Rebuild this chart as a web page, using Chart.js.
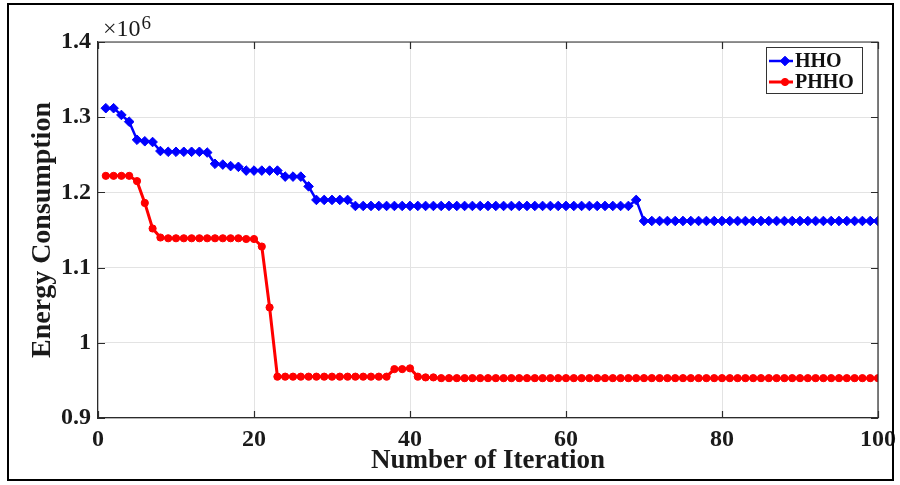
<!DOCTYPE html>
<html>
<head>
<meta charset="utf-8">
<script src="https://cdn.jsdelivr.net/npm/chart.js@4"></script>
<style>
html,body{margin:0;padding:0;background:#fff;}
canvas{display:block;}
</style>
</head>
<body>
<canvas id="c" width="900" height="485"></canvas>
<script>
// ---- data (values in units of 10^6) ----
const iterations = [
  1,2,3,4,5,6,7,8,9,10,
  11,12,13,14,15,16,17,18,19,20,
  21,22,23,24,25,26,27,28,29,30,
  31,32,33,34,35,36,37,38,39,40,
  41,42,43,44,45,46,47,48,49,50,
  51,52,53,54,55,56,57,58,59,60,
  61,62,63,64,65,66,67,68,69,70,
  71,72,73,74,75,76,77,78,79,80,
  81,82,83,84,85,86,87,88,89,90,
  91,92,93,94,95,96,97,98,99,100
];
const hhoValues = [
  1.312,1.312,1.303,1.294,1.270,1.268,1.267,1.255,1.254,1.254,
  1.254,1.254,1.254,1.253,1.238,1.237,1.235,1.234,1.229,1.229,
  1.229,1.229,1.229,1.221,1.221,1.221,1.208,1.190,1.190,1.190,
  1.190,1.190,1.182,1.182,1.182,1.182,1.182,1.182,1.182,1.182,
  1.182,1.182,1.182,1.182,1.182,1.182,1.182,1.182,1.182,1.182,
  1.182,1.182,1.182,1.182,1.182,1.182,1.182,1.182,1.182,1.182,
  1.182,1.182,1.182,1.182,1.182,1.182,1.182,1.182,1.190,1.162,
  1.162,1.162,1.162,1.162,1.162,1.162,1.162,1.162,1.162,1.162,
  1.162,1.162,1.162,1.162,1.162,1.162,1.162,1.162,1.162,1.162,
  1.162,1.162,1.162,1.162,1.162,1.162,1.162,1.162,1.162,1.162
];
const phhoValues = [
  1.222,1.222,1.222,1.222,1.215,1.186,1.152,1.140,1.139,1.139,
  1.139,1.139,1.139,1.139,1.139,1.139,1.139,1.139,1.138,1.138,
  1.128,1.047,0.955,0.955,0.955,0.955,0.955,0.955,0.955,0.955,
  0.955,0.955,0.955,0.955,0.955,0.955,0.955,0.965,0.965,0.966,
  0.955,0.954,0.954,0.953,0.953,0.953,0.953,0.953,0.953,0.953,
  0.953,0.953,0.953,0.953,0.953,0.953,0.953,0.953,0.953,0.953,
  0.953,0.953,0.953,0.953,0.953,0.953,0.953,0.953,0.953,0.953,
  0.953,0.953,0.953,0.953,0.953,0.953,0.953,0.953,0.953,0.953,
  0.953,0.953,0.953,0.953,0.953,0.953,0.953,0.953,0.953,0.953,
  0.953,0.953,0.953,0.953,0.953,0.953,0.953,0.953,0.953,0.953
];
const seriesNames = ['HHO', 'PHHO'];
const xTicks = [0, 20, 40, 60, 80, 100];
const yTicks = [0.9, 1, 1.1, 1.2, 1.3, 1.4];
const xTitle = 'Number of Iteration';
const yTitle = 'Energy Consumption';
const exponentText = ['\u00d710', '6'];

const SERIF = '"Liberation Serif", "Times New Roman", serif';
const AXIS_COLOR = '#2b2b2b';

const toPoints = vals => vals.map((v, i) => ({x: iterations[i], y: v}));

const decorPlugin = {
  id: 'decor',
  beforeDraw(chart) {
    const ctx = chart.ctx;
    ctx.save();
    ctx.fillStyle = '#fff';
    ctx.fillRect(0, 0, chart.width, chart.height);
    ctx.restore();
  },
  afterDatasetsDraw(chart) {
    const {ctx, chartArea: {left, right, top, bottom}, scales: {x, y}} = chart;
    ctx.save();
    // box top and right
    ctx.strokeStyle = AXIS_COLOR;
    ctx.lineWidth = 1.2;
    ctx.beginPath();
    ctx.moveTo(left, top); ctx.lineTo(right, top); ctx.lineTo(right, bottom);
    ctx.stroke();
    // inner ticks
    const tl = 7;
    ctx.beginPath();
    xTicks.forEach(v => {
      const px = Math.round(x.getPixelForValue(v)) + 0.5;
      ctx.moveTo(px, bottom); ctx.lineTo(px, bottom - tl);
      ctx.moveTo(px, top); ctx.lineTo(px, top + tl);
    });
    yTicks.forEach(v => {
      const py = Math.round(y.getPixelForValue(v)) + 0.5;
      ctx.moveTo(left, py); ctx.lineTo(left + tl, py);
      ctx.moveTo(right, py); ctx.lineTo(right - tl, py);
    });
    ctx.stroke();

    // exponent label
    ctx.fillStyle = '#1a1a1a';
    ctx.textBaseline = 'alphabetic';
    ctx.textAlign = 'left';
    ctx.font = '24px ' + SERIF;
    ctx.fillText(exponentText[0], left + 5, top - 6);
    const w = ctx.measureText(exponentText[0]).width;
    ctx.font = '19px ' + SERIF;
    ctx.fillText(exponentText[1], left + 5 + w + 1, top - 13);

    // legend
    const lx = 766, ly = 47, lw = 96, lh = 46;
    ctx.fillStyle = '#fff';
    ctx.fillRect(lx, ly, lw, lh);
    ctx.strokeStyle = '#333';
    ctx.lineWidth = 1;
    ctx.strokeRect(lx + 0.5, ly + 0.5, lw, lh);
    chart.data.datasets.forEach((ds, i) => {
      const cy = ly + 14 + i * 21;
      ctx.strokeStyle = ds.borderColor;
      ctx.lineWidth = ds.borderWidth;
      ctx.beginPath();
      ctx.moveTo(lx + 3, cy); ctx.lineTo(lx + 27, cy);
      ctx.stroke();
      ctx.fillStyle = ds.pointBackgroundColor;
      ctx.strokeStyle = ds.pointBorderColor;
      ctx.lineWidth = ds.pointBorderWidth;
      Chart.helpers.drawPoint(ctx, {
        pointStyle: ds.pointStyle, radius: ds.pointRadius, borderWidth: ds.pointBorderWidth, rotation: 0
      }, lx + 19, cy);
      ctx.fillStyle = '#111';
      ctx.font = 'bold 20px ' + SERIF;
      ctx.textBaseline = 'middle';
      ctx.fillText(ds.label, lx + 29, cy + 1);
    });

    // outer frame
    ctx.strokeStyle = '#000';
    ctx.lineWidth = 2;
    ctx.strokeRect(8, 4, 885, 476);
    ctx.restore();
  }
};

new Chart(document.getElementById('c'), {
  type: 'line',
  data: {
    datasets: [
      {
        label: seriesNames[0],
        data: toPoints(hhoValues),
        borderColor: '#0000ff',
        backgroundColor: '#0000ff',
        borderWidth: 2.5,
        pointStyle: 'rectRot',
        pointRadius: 4.8,
        pointBorderWidth: 1,
        pointBackgroundColor: '#0000ff',
        pointBorderColor: '#0000ff',
        tension: 0
      },
      {
        label: seriesNames[1],
        data: toPoints(phhoValues),
        borderColor: '#ff0000',
        backgroundColor: '#ff0000',
        borderWidth: 3,
        pointStyle: 'circle',
        pointRadius: 3.6,
        pointBorderWidth: 1,
        pointBackgroundColor: '#ff0000',
        pointBorderColor: '#ff0000',
        tension: 0
      }
    ]
  },
  options: {
    responsive: false,
    animation: false,
    devicePixelRatio: 1,
    layout: {padding: {top: 42, right: 22, left: 0, bottom: 0}},
    plugins: {legend: {display: false}, tooltip: {enabled: false}},
    scales: {
      x: {
        type: 'linear',
        min: 0, max: 100,
        afterBuildTicks: s => { s.ticks = xTicks.map(v => ({value: v})); },
        afterFit: s => { s.height = 67; s.paddingRight = 0; s.paddingLeft = 0; },
        grid: {color: '#e3e3e3', lineWidth: 1, drawTicks: false},
        border: {color: AXIS_COLOR, width: 1.2},
        ticks: {
          padding: 7,
          color: '#1a1a1a',
          font: {family: SERIF, size: 24, weight: 'bold'},
          maxRotation: 0,
          callback: v => String(v)
        },
        title: {
          display: true, text: xTitle, color: '#1a1a1a',
          font: {family: SERIF, size: 27, weight: 'bold'},
          padding: {top: 8, bottom: 8}
        }
      },
      y: {
        type: 'linear',
        min: 0.9, max: 1.4,
        afterBuildTicks: s => { s.ticks = yTicks.map(v => ({value: v})); },
        afterFit: s => { s.width = 98; },
        grid: {color: '#e3e3e3', lineWidth: 1, drawTicks: false},
        border: {color: AXIS_COLOR, width: 1.2},
        ticks: {
          padding: 7,
          color: '#1a1a1a',
          font: {family: SERIF, size: 24, weight: 'bold'},
          callback: v => String(Number(v.toFixed(1)))
        },
        title: {
          display: true, text: yTitle, color: '#1a1a1a',
          font: {family: SERIF, size: 28, weight: 'bold'},
          padding: {top: 26, bottom: 0}
        }
      }
    }
  },
  plugins: [decorPlugin]
});
</script>
</body>
</html>
